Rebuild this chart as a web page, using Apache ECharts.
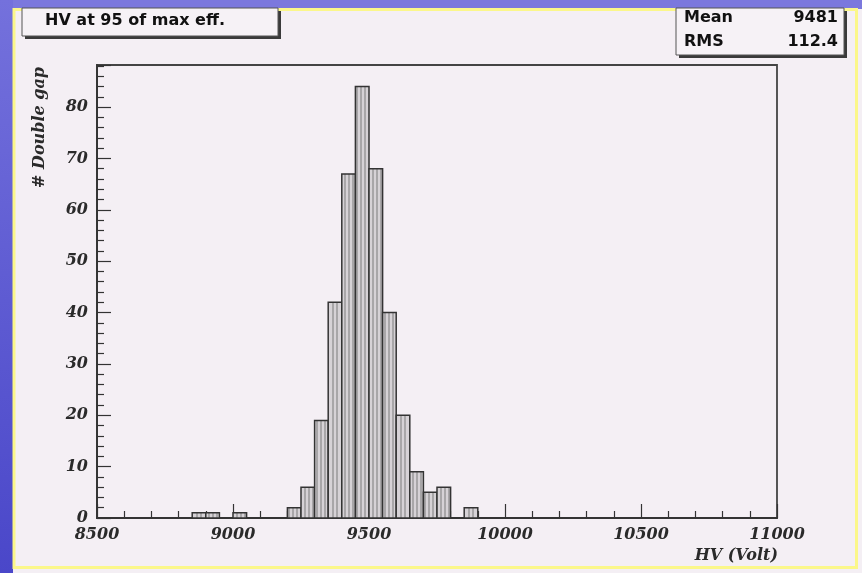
<!DOCTYPE html>
<html>
<head>
<meta charset="utf-8">
<title>HV at 95 of max eff.</title>
<script src="https://cdn.jsdelivr.net/npm/echarts@6/dist/echarts.min.js"></script>
<style>
  html, body { margin: 0; padding: 0; background: #f4eff4; }
  #chart { width: 862px; height: 573px; }
</style>
</head>
<body>
<div id="chart"></div>
<script>
// Histogram of the HV working point (50 V bins), lower bin edges and entries
const binLow = [8850, 8900, 9000, 9200, 9250, 9300, 9350, 9400, 9450, 9500, 9550, 9600, 9650, 9700, 9750, 9850];
const counts = [1, 1, 1, 2, 6, 19, 42, 67, 84, 68, 40, 20, 9, 5, 6, 2];
const binWidth = 50;

// Axis ranges and tick steps
const xRange = [8500, 11000];
const xStep = 500;
const yRange = [0, 88.2];
const yStep = 10;

// Statistics box entries
const statNames = ['Mean', 'RMS'];
const statValues = ['9481', '112.4'];

const titleText = 'HV at 95 of max eff.';
const xTitle = 'HV (Volt)';
const yTitle = '# Double gap';

const serif = '"DejaVu Serif", "Liberation Serif", serif';
const sans = '"DejaVu Sans", "Liberation Sans", sans-serif';
const ink = '#2a2a2a';

const chart = echarts.init(document.getElementById('chart'), null, { renderer: 'canvas' });

const histData = binLow.map((x, i) => [x, counts[i]]);

const HATCH = 4;

// one bin: grey fill, vertical hatching aligned on the frame, dark outline
function renderBin(params, api) {
  const x0 = api.value(0);
  const n = api.value(1);
  const pBase = api.coord([x0, 0]);
  const pTop = api.coord([x0 + binWidth, n]);
  const left = pBase[0], right = pTop[0];
  const bottom = pBase[1], top = pTop[1];
  const origin = params.coordSys.x;
  const children = [{
    type: 'rect',
    shape: { x: left, y: top, width: right - left, height: bottom - top },
    style: { fill: '#d6d2d6', stroke: null }
  }];
  const k = Math.ceil((left + 1 - origin) / HATCH);
  for (let hx = origin + k * HATCH; hx < right - 1; hx += HATCH) {
    children.push({
      type: 'line',
      shape: { x1: hx, y1: top, x2: hx, y2: bottom },
      style: { stroke: '#7a7a7a', lineWidth: 1 }
    });
  }
  children.push({
    type: 'rect',
    shape: { x: left, y: top, width: right - left, height: bottom - top },
    style: { fill: null, stroke: '#333', lineWidth: 1.5 }
  });
  return { type: 'group', children };
}

function statText(label, value, y) {
  return [
    { type: 'text', z: 20, left: 684, top: y,
      style: { text: label, font: 'bold 16px ' + sans, fill: '#111' } },
    { type: 'text', z: 20, right: 862 - 838, top: y,
      style: { text: value, font: 'bold 16px ' + sans, fill: '#111', align: 'right' } }
  ];
}

const plainNumber = v => String(v);

const option = {
  backgroundColor: '#f4eff4',
  animation: false,
  grid: {
    left: 97, right: 85, top: 65, bottom: 55,
    show: true, borderColor: '#444', borderWidth: 1.8,
    backgroundColor: 'transparent'
  },
  xAxis: {
    type: 'value', min: xRange[0], max: xRange[1], interval: xStep,
    axisLine: { show: true, lineStyle: { color: '#333', width: 1.8 } },
    axisTick: { show: true, inside: true, length: 14, lineStyle: { color: '#333', width: 1.2 } },
    minorTick: { show: true, splitNumber: 5, length: 7, lineStyle: { color: '#333', width: 1.2 } },
    splitLine: { show: false },
    axisLabel: { margin: 9, formatter: plainNumber, color: ink, fontFamily: serif, fontSize: 16, fontWeight: 'bold', fontStyle: 'italic' }
  },
  yAxis: {
    type: 'value', min: yRange[0], max: yRange[1], interval: yStep,
    axisLine: { show: true, lineStyle: { color: '#333', width: 1.8 } },
    axisTick: { show: true, inside: true, length: 14, lineStyle: { color: '#333', width: 1.2 } },
    minorTick: { show: true, splitNumber: 5, length: 7, lineStyle: { color: '#333', width: 1.2 } },
    splitLine: { show: false },
    axisLabel: { margin: 9, showMaxLabel: false, formatter: plainNumber, color: ink, fontFamily: serif, fontSize: 16, fontWeight: 'bold', fontStyle: 'italic' }
  },
  series: [{
    type: 'custom',
    renderItem: renderBin,
    data: histData,
    encode: { x: 0, y: 1 },
    clip: true,
    z: 3
  }],
  graphic: [
    // slide-style frame: blue strips on top and left, yellow border around the pad
    { type: 'rect', z: -10, shape: { x: 0, y: 0, width: 862, height: 9 },
      style: { fill: '#7b78dd' } },
    { type: 'rect', z: -10, shape: { x: 0, y: 0, width: 13, height: 573 },
      style: { fill: new echarts.graphic.LinearGradient(0, 0, 0, 1, [
        { offset: 0, color: '#7471dc' }, { offset: 1, color: '#4a47c9' }]) } },
    { type: 'rect', z: -9, shape: { x: 14, y: 9.5, width: 842.5, height: 558 },
      style: { fill: null, stroke: '#fbf78a', lineWidth: 3 } },

    // title box with drop shadow
    { type: 'rect', z: 10, shape: { x: 25, y: 11, width: 256, height: 28 },
      style: { fill: '#3a3a3a' } },
    { type: 'rect', z: 11, shape: { x: 22, y: 8, width: 256, height: 28 },
      style: { fill: '#f6f2f6', stroke: '#555', lineWidth: 1 } },
    { type: 'text', z: 12, left: 45, top: 13,
      style: { text: titleText, font: 'bold 16px ' + sans, fill: '#111' } },

    // statistics box with drop shadow
    { type: 'rect', z: 10, shape: { x: 679, y: 11, width: 168, height: 47 },
      style: { fill: '#3a3a3a' } },
    { type: 'rect', z: 11, shape: { x: 676, y: 8, width: 168, height: 47 },
      style: { fill: '#f6f2f6', stroke: '#555', lineWidth: 1 } },
    ...statText(statNames[0], statValues[0], 10),
    ...statText(statNames[1], statValues[1], 34),

    // axis titles
    { type: 'text', z: 12, x: 40, y: 67, rotation: Math.PI / 2,
      style: { text: yTitle, font: 'italic bold 16px ' + serif, fill: ink,
               align: 'right', verticalAlign: 'middle' } },
    { type: 'text', z: 12, x: 778, y: 556,
      style: { text: xTitle, font: 'italic bold 16px ' + serif, fill: ink,
               align: 'right', verticalAlign: 'middle' } }
  ]
};

chart.setOption(option);
</script>
</body>
</html>
